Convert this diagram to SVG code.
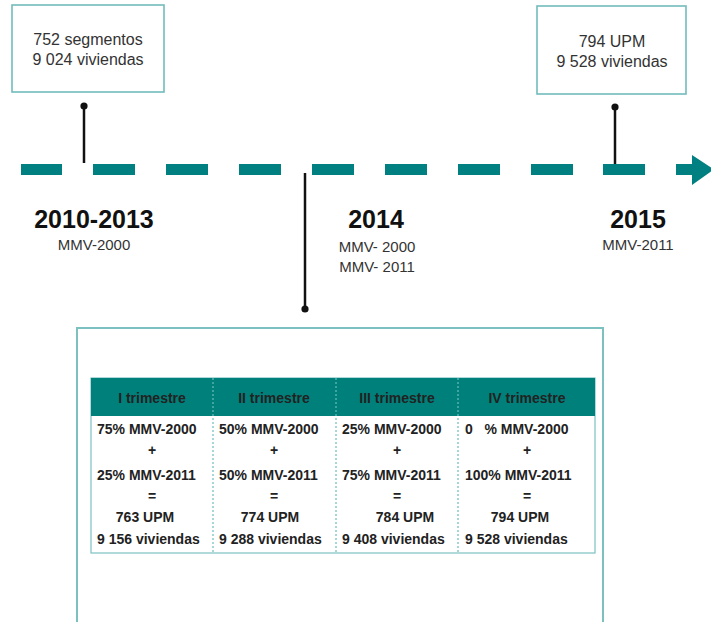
<svg xmlns="http://www.w3.org/2000/svg" width="711" height="622" viewBox="0 0 711 622">
<style>
.box{fill:#fff;stroke:#72bcbc;stroke-width:1.6}
.big{fill:#fff;stroke:#7cc0c0;stroke-width:2}
.t{font-family:"Liberation Sans",Arial,sans-serif;fill:#333;text-anchor:middle}
.yr{font-family:"Liberation Sans",Arial,sans-serif;font-weight:bold;font-size:25px;fill:#111;text-anchor:middle}
.sub{font-family:"Liberation Sans",Arial,sans-serif;font-size:15px;fill:#333;text-anchor:middle}
.tb{font-family:"Liberation Sans",Arial,sans-serif;font-weight:bold;font-size:14px;fill:#222}
.c{text-anchor:middle}
.dash{fill:#008080}
.stem{stroke:#111;stroke-width:2.5;fill:none}
.div{stroke:#6cbcbc;stroke-width:1.2;stroke-dasharray:2 2}
</style>
<rect width="711" height="622" fill="#fff"/>
<g id="timeline">
<rect class="dash" x="21" y="164" width="41" height="11"/>
<rect class="dash" x="93" y="164" width="42" height="11"/>
<rect class="dash" x="166" y="164" width="42" height="11"/>
<rect class="dash" x="239" y="164" width="42" height="11"/>
<rect class="dash" x="312" y="164" width="42" height="11"/>
<rect class="dash" x="385" y="164" width="42" height="11"/>
<rect class="dash" x="458" y="164" width="42" height="11"/>
<rect class="dash" x="531" y="164" width="42" height="11"/>
<rect class="dash" x="603" y="164" width="42" height="11"/>
<path class="dash" d="M676,164 H692 V155 L714,169.5 L692,185 V175 H676 Z"/>
</g>
<g id="connectors">
<line class="stem" x1="84" y1="106" x2="84" y2="163"/>
<circle cx="84" cy="106" r="3.6" fill="#111"/>
<line class="stem" x1="615" y1="107" x2="615" y2="164"/>
<circle cx="615" cy="107" r="3.6" fill="#111"/>
<line class="stem" x1="305" y1="173" x2="305" y2="309"/>
<circle cx="305" cy="309" r="3.6" fill="#111"/>
</g>
<g id="box2010">
<rect class="box" x="12" y="5" width="152" height="87"/>
<text class="t" x="88" y="45" font-size="16">752 segmentos</text>
<text class="t" x="88" y="65" font-size="16">9 024 viviendas</text>
</g>
<g id="box2015">
<rect class="box" x="537" y="6" width="149" height="88"/>
<text class="t" x="612" y="47" font-size="16">794 UPM</text>
<text class="t" x="612" y="67" font-size="16">9 528 viviendas</text>
</g>
<g id="label2010">
<text class="yr" x="94" y="228">2010-2013</text>
<text class="sub" x="94" y="250">MMV-2000</text>
</g>
<g id="label2014">
<text class="yr" x="376" y="228">2014</text>
<text class="sub" x="377" y="252">MMV- 2000</text>
<text class="sub" x="377" y="272">MMV- 2011</text>
</g>
<g id="label2015">
<text class="yr" x="638" y="228">2015</text>
<text class="sub" x="638" y="250">MMV-2011</text>
</g>
<g id="detail">
<rect class="big" x="77" y="328" width="526" height="300"/>
<rect x="91" y="378" width="504" height="175" fill="#fff" stroke="#7cc0c0" stroke-width="1.2"/>
<rect x="91" y="378" width="504" height="38" fill="#00807a"/>
<line class="div" x1="213" y1="378" x2="213" y2="553"/>
<line class="div" x1="336" y1="378" x2="336" y2="553"/>
<line class="div" x1="458" y1="378" x2="458" y2="553"/>
<g class="tb">
<text class="c" x="152" y="403">I trimestre</text>
<text class="c" x="274" y="403">II trimestre</text>
<text class="c" x="397" y="403">III trimestre</text>
<text class="c" x="527" y="403">IV trimestre</text>

<text x="97" y="434">75% MMV-2000</text>
<text class="c" x="152" y="455">+</text>
<text x="97" y="480">25% MMV-2011</text>
<text class="c" x="152" y="501">=</text>
<text class="c" x="145" y="522">763 UPM</text>
<text x="97" y="544">9 156 viviendas</text>

<text x="219" y="434">50% MMV-2000</text>
<text class="c" x="274" y="455">+</text>
<text x="219" y="480">50% MMV-2011</text>
<text class="c" x="274" y="501">=</text>
<text class="c" x="270" y="522">774 UPM</text>
<text x="219" y="544">9 288 viviendas</text>

<text x="342" y="434">25% MMV-2000</text>
<text class="c" x="397" y="455">+</text>
<text x="342" y="480">75% MMV-2011</text>
<text class="c" x="397" y="501">=</text>
<text class="c" x="405" y="522">784 UPM</text>
<text x="342" y="544">9 408 viviendas</text>

<text x="465" y="434" xml:space="preserve">0   % MMV-2000</text>
<text class="c" x="527" y="455">+</text>
<text x="465" y="480">100% MMV-2011</text>
<text class="c" x="527" y="501">=</text>
<text class="c" x="520" y="522">794 UPM</text>
<text x="465" y="544">9 528 viviendas</text>
</g>
</g>
</svg>
